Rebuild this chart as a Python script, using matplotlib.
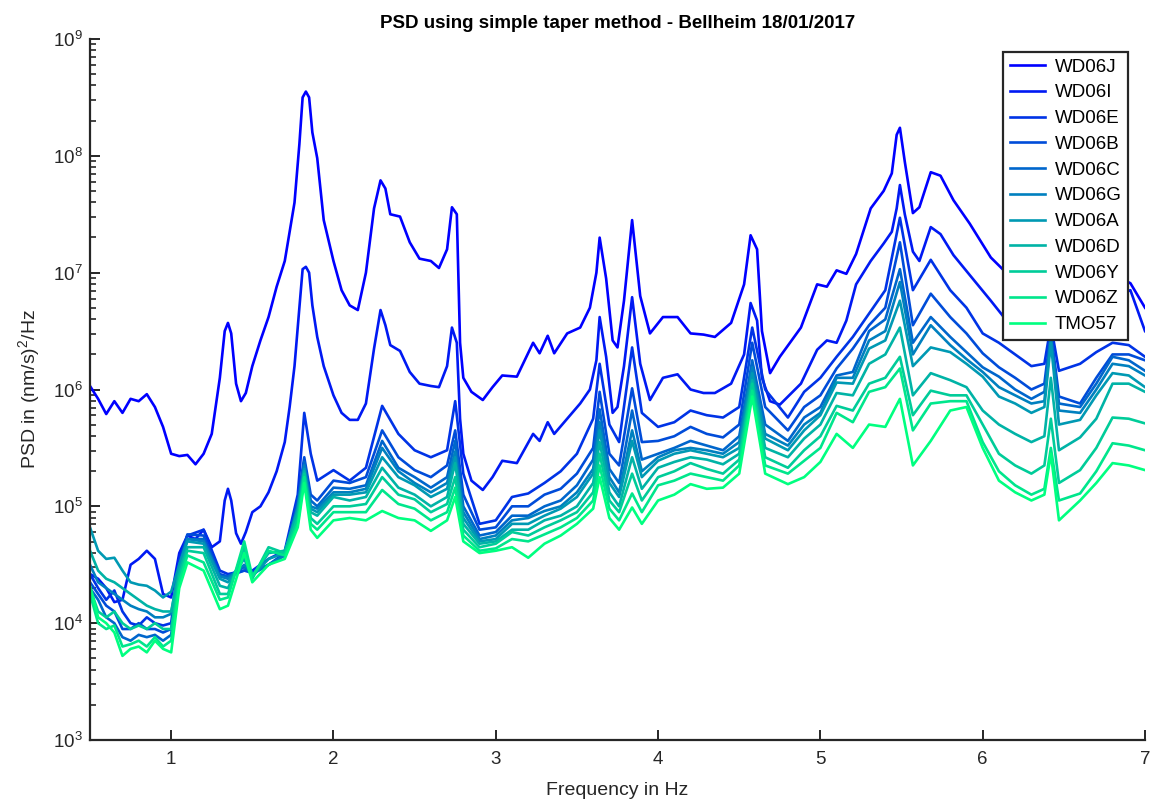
import numpy as np
import matplotlib
matplotlib.use("Agg")
import matplotlib.pyplot as plt
from matplotlib.ticker import LogLocator, FuncFormatter, NullFormatter, FixedLocator

plt.rcParams['font.family'] = ['Liberation Sans', 'DejaVu Sans']
plt.rcParams['mathtext.fontset'] = 'custom'
plt.rcParams['mathtext.rm'] = 'Liberation Sans'
plt.rcParams['mathtext.it'] = 'Liberation Sans:italic'
plt.rcParams['mathtext.bf'] = 'Liberation Sans:bold'
plt.rcParams['mathtext.default'] = 'rm'

# ---------------- data (log10 of PSD) ----------------
station_names = ["WD06J", "WD06I", "WD06E", "WD06B", "WD06C", "WD06G",
                 "WD06A", "WD06D", "WD06Y", "WD06Z", "TMO57"]

freq_top = [0.5, 0.55, 0.6, 0.65, 0.7, 0.75, 0.8, 0.85, 0.9, 0.95,
            1.0, 1.05, 1.1, 1.15, 1.2, 1.25, 1.3, 1.33, 1.35, 1.37,
            1.4, 1.43, 1.46, 1.5, 1.55, 1.6, 1.65, 1.7, 1.73, 1.76,
            1.79, 1.81, 1.83, 1.85, 1.87, 1.9, 1.94, 2.0, 2.05, 2.1,
            2.15, 2.2, 2.25, 2.29, 2.32, 2.35, 2.41, 2.47, 2.53, 2.6,
            2.65, 2.7, 2.73, 2.76, 2.78, 2.8, 2.85, 2.92, 2.98, 3.04,
            3.13, 3.23, 3.27, 3.32, 3.36, 3.44, 3.52, 3.58, 3.62, 3.64,
            3.68, 3.72, 3.75, 3.79, 3.84, 3.89, 3.95, 4.03, 4.12, 4.2,
            4.28, 4.35, 4.45, 4.53, 4.57, 4.61, 4.64, 4.69, 4.75, 4.88,
            4.98, 5.04, 5.1, 5.16, 5.22, 5.31, 5.39, 5.44, 5.47, 5.49,
            5.52, 5.57, 5.61, 5.68, 5.74, 5.82, 5.92, 6.05, 6.13, 6.25,
            6.4, 6.55, 6.7, 6.85, 6.91, 7.0]

wd06j_log = [6.03, 5.92, 5.79, 5.90, 5.80, 5.92, 5.90, 5.96, 5.85, 5.68,
             5.45, 5.43, 5.44, 5.36, 5.45, 5.62, 6.10, 6.50, 6.57, 6.48,
             6.05, 5.90, 5.97, 6.20, 6.42, 6.62, 6.88, 7.10, 7.35, 7.60,
             8.10, 8.50, 8.55, 8.50, 8.20, 7.98, 7.45, 7.10, 6.85, 6.72,
             6.68, 7.00, 7.55, 7.79, 7.72, 7.50, 7.48, 7.26, 7.12, 7.10,
             7.04, 7.20, 7.56, 7.50, 6.40, 6.10, 5.98, 5.91, 6.02, 6.12,
             6.11, 6.40, 6.31, 6.46, 6.31, 6.48, 6.53, 6.70, 7.00, 7.30,
             6.95, 6.42, 6.36, 6.76, 7.45, 6.80, 6.48, 6.62, 6.62, 6.48,
             6.47, 6.45, 6.57, 6.90, 7.32, 7.20, 6.50, 6.14, 6.28, 6.53,
             6.90, 6.88, 7.02, 6.99, 7.16, 7.55, 7.70, 7.85, 8.18, 8.24,
             7.95, 7.51, 7.56, 7.86, 7.83, 7.62, 7.42, 7.13, 7.02, 6.98,
             6.90, 6.85, 6.88, 6.95, 6.91, 6.70]

wd06i_log = [4.42, 4.38, 4.30, 4.18, 4.20, 4.50, 4.55, 4.62, 4.55, 4.25,
             4.22, 4.60, 4.75, 4.72, 4.80, 4.65, 4.70, 5.05, 5.15, 5.05,
             4.77, 4.68, 4.78, 4.95, 5.00, 5.12, 5.30, 5.55, 5.85, 6.20,
             6.70, 7.03, 7.05, 7.00, 6.72, 6.45, 6.20, 5.95, 5.80, 5.74,
             5.74, 5.88, 6.35, 6.68, 6.55, 6.38, 6.33, 6.15, 6.05, 6.03,
             6.02, 6.20, 6.53, 6.40, 5.75, 5.45, 5.22, 5.14, 5.25, 5.39,
             5.37, 5.62, 5.56, 5.72, 5.62, 5.75, 5.88, 6.00, 6.25, 6.62,
             6.28, 5.80, 5.85, 6.20, 6.79, 6.22, 5.91, 6.10, 6.13, 6.00,
             5.97, 5.97, 6.05, 6.30, 6.74, 6.59, 6.10, 5.90, 5.87, 6.05,
             6.34, 6.42, 6.40, 6.59, 6.90, 7.10, 7.25, 7.35, 7.55, 7.75,
             7.50, 7.18, 7.10, 7.39, 7.33, 7.15, 6.98, 6.76, 6.62, 6.55,
             6.60, 6.50, 6.65, 6.82, 6.85, 6.50]

freq_low = [0.5, 0.55, 0.6, 0.65, 0.7, 0.75, 0.8, 0.85, 0.9, 0.95, 1.0, 1.05, 1.1,
            1.2, 1.3, 1.35, 1.45, 1.5, 1.6, 1.7, 1.78, 1.82, 1.86, 1.9,
            2.0, 2.1, 2.2, 2.3, 2.4, 2.5, 2.6, 2.7, 2.75, 2.8, 2.9,
            3.0, 3.1, 3.2, 3.3, 3.4, 3.5, 3.6, 3.64, 3.7, 3.76, 3.84, 3.9,
            4.0, 4.1, 4.2, 4.3, 4.4, 4.5, 4.58, 4.66, 4.8, 4.9,
            5.0, 5.1, 5.2, 5.3, 5.4, 5.49, 5.57, 5.68, 5.8, 5.9,
            6.0, 6.1, 6.2, 6.3, 6.38, 6.42, 6.47, 6.6, 6.7, 6.8, 6.9, 7.0]

wd06e_log = [4.42, 4.30, 4.20, 4.28, 4.10, 4.00, 3.98, 4.05, 4.00, 3.98, 4.00, 4.55, 4.75,
             4.80, 4.45, 4.42, 4.45, 4.45, 4.55, 4.62, 5.10, 5.80, 5.45, 5.22,
             5.31, 5.22, 5.33, 5.86, 5.62, 5.48, 5.42, 5.48, 5.90, 5.28, 4.85,
             4.88, 5.08, 5.11, 5.20, 5.30, 5.45, 5.75, 6.22, 5.70, 5.55, 6.36, 5.80,
             5.68, 5.72, 5.82, 5.78, 5.76, 5.85, 6.53, 6.00, 5.76, 5.98,
             6.10, 6.28, 6.45, 6.65, 6.85, 7.47, 6.85, 7.11, 6.85, 6.70,
             6.48, 6.40, 6.30, 6.20, 6.22, 6.55, 6.16, 6.22, 6.32, 6.40, 6.38, 6.28]

wd06b_log = [4.35, 4.25, 4.15, 4.10, 3.95, 3.95, 4.00, 3.95, 3.95, 3.92, 3.95, 4.50, 4.76,
             4.75, 4.42, 4.40, 4.45, 4.43, 4.50, 4.60, 5.05, 5.42, 5.10, 5.05,
             5.22, 5.20, 5.25, 5.65, 5.42, 5.31, 5.25, 5.35, 5.65, 5.10, 4.80,
             4.82, 5.00, 5.00, 5.10, 5.15, 5.28, 5.50, 5.98, 5.45, 5.35, 6.01, 5.55,
             5.56, 5.60, 5.68, 5.62, 5.59, 5.70, 6.40, 5.85, 5.65, 5.85,
             5.95, 6.18, 6.35, 6.55, 6.70, 7.26, 6.55, 6.82, 6.62, 6.48,
             6.31, 6.19, 6.10, 6.00, 6.05, 6.50, 5.94, 5.88, 6.10, 6.30, 6.30, 6.25]

wd06c_log = [4.30, 4.20, 4.05, 4.00, 3.88, 3.85, 3.90, 3.88, 3.90, 3.85, 3.90, 4.45, 4.72,
             4.72, 4.40, 4.40, 4.48, 4.42, 4.50, 4.58, 5.00, 5.38, 5.05, 5.00,
             5.16, 5.15, 5.18, 5.56, 5.33, 5.25, 5.16, 5.25, 5.56, 5.00, 4.75,
             4.78, 4.92, 4.92, 5.00, 5.05, 5.18, 5.40, 5.83, 5.32, 5.20, 5.82, 5.40,
             5.45, 5.50, 5.56, 5.52, 5.48, 5.60, 6.25, 5.70, 5.56, 5.76,
             5.85, 6.12, 6.15, 6.50, 6.60, 7.03, 6.40, 6.62, 6.45, 6.32,
             6.19, 6.11, 6.00, 5.92, 5.98, 6.45, 5.88, 5.85, 6.05, 6.28, 6.25, 6.16]

wd06g_log = [4.50, 4.35, 4.30, 4.25, 4.20, 4.15, 4.12, 4.10, 4.05, 4.05, 4.08, 4.50, 4.72,
             4.70, 4.40, 4.38, 4.50, 4.42, 4.50, 4.58, 5.00, 5.35, 5.00, 4.98,
             5.12, 5.12, 5.15, 5.50, 5.30, 5.20, 5.12, 5.20, 5.47, 4.95, 4.72,
             4.75, 4.88, 4.90, 4.96, 5.00, 5.12, 5.32, 5.72, 5.25, 5.12, 5.65, 5.30,
             5.42, 5.48, 5.50, 5.48, 5.45, 5.55, 6.19, 5.62, 5.52, 5.70,
             5.80, 6.10, 6.10, 6.42, 6.50, 6.92, 6.30, 6.55, 6.38, 6.26,
             6.15, 6.02, 5.95, 5.88, 5.90, 6.45, 5.82, 5.80, 6.00, 6.22, 6.20, 6.12]

wd06a_log = [4.82, 4.62, 4.55, 4.56, 4.45, 4.35, 4.33, 4.32, 4.28, 4.22, 4.27, 4.50, 4.70,
             4.68, 4.38, 4.35, 4.55, 4.40, 4.55, 4.60, 4.98, 5.32, 4.98, 4.95,
             5.10, 5.10, 5.12, 5.42, 5.25, 5.18, 5.08, 5.15, 5.42, 4.90, 4.70,
             4.72, 4.85, 4.85, 4.92, 4.98, 5.08, 5.28, 5.65, 5.20, 5.08, 5.56, 5.25,
             5.39, 5.45, 5.48, 5.45, 5.42, 5.50, 6.14, 5.58, 5.48, 5.65,
             5.78, 6.06, 6.05, 6.35, 6.42, 6.76, 6.20, 6.36, 6.32, 6.22,
             6.11, 5.94, 5.88, 5.80, 5.85, 6.40, 5.70, 5.74, 5.95, 6.14, 6.12, 6.02]

wd06d_log = [4.62, 4.45, 4.38, 4.35, 4.30, 4.25, 4.20, 4.15, 4.12, 4.10, 4.10, 4.45, 4.65,
             4.65, 4.32, 4.30, 4.60, 4.40, 4.60, 4.62, 4.95, 5.30, 4.95, 4.92,
             5.08, 5.05, 5.08, 5.33, 5.16, 5.10, 5.00, 5.08, 5.37, 4.85, 4.68,
             4.70, 4.80, 4.80, 4.88, 4.92, 5.00, 5.20, 5.55, 5.12, 5.00, 5.42, 5.15,
             5.33, 5.38, 5.42, 5.40, 5.36, 5.45, 6.08, 5.50, 5.42, 5.58,
             5.70, 5.97, 5.95, 6.22, 6.30, 6.53, 5.95, 6.14, 6.08, 6.02,
             5.82, 5.70, 5.62, 5.55, 5.60, 6.10, 5.48, 5.59, 5.75, 6.05, 6.05, 5.98]

wd06y_log = [4.30, 4.10, 4.05, 4.10, 4.00, 3.95, 3.98, 3.95, 4.00, 3.95, 3.95, 4.40, 4.62,
             4.60, 4.25, 4.25, 4.65, 4.38, 4.65, 4.60, 4.90, 5.28, 4.90, 4.85,
             5.00, 5.00, 5.02, 5.25, 5.10, 5.06, 4.95, 5.02, 5.25, 4.80, 4.65,
             4.68, 4.78, 4.75, 4.82, 4.88, 4.95, 5.12, 5.45, 5.05, 4.95, 5.28, 5.05,
             5.25, 5.30, 5.37, 5.32, 5.28, 5.40, 6.05, 5.42, 5.33, 5.48,
             5.60, 5.86, 5.82, 6.05, 6.10, 6.28, 5.78, 5.99, 5.95, 5.95,
             5.70, 5.45, 5.35, 5.28, 5.35, 5.75, 5.20, 5.31, 5.50, 5.76, 5.75, 5.71]

wd06z_log = [4.25, 4.00, 3.95, 3.98, 3.80, 3.82, 3.85, 3.80, 3.88, 3.80, 3.85, 4.35, 4.58,
             4.52, 4.20, 4.22, 4.70, 4.40, 4.62, 4.58, 4.85, 5.25, 4.85, 4.80,
             4.95, 4.95, 4.95, 5.14, 5.02, 4.98, 4.88, 4.95, 5.16, 4.75, 4.62,
             4.64, 4.72, 4.70, 4.76, 4.82, 4.90, 5.05, 5.35, 4.98, 4.88, 5.11, 4.95,
             5.18, 5.22, 5.28, 5.25, 5.22, 5.35, 5.99, 5.35, 5.28, 5.39,
             5.50, 5.80, 5.72, 5.98, 6.02, 6.18, 5.65, 5.88, 5.90, 5.90,
             5.55, 5.30, 5.18, 5.10, 5.15, 5.50, 5.05, 5.11, 5.30, 5.54, 5.52, 5.48]

tmo57_log = [4.32, 4.05, 4.00, 3.92, 3.72, 3.78, 3.80, 3.75, 3.85, 3.78, 3.75, 4.30, 4.52,
             4.45, 4.12, 4.15, 4.60, 4.35, 4.50, 4.55, 4.82, 5.20, 4.80, 4.73,
             4.88, 4.90, 4.88, 4.96, 4.90, 4.88, 4.79, 4.88, 5.08, 4.70, 4.60,
             4.62, 4.65, 4.56, 4.68, 4.75, 4.85, 4.98, 5.25, 4.90, 4.80, 4.99, 4.85,
             5.05, 5.10, 5.19, 5.15, 5.16, 5.28, 5.94, 5.28, 5.19, 5.25,
             5.38, 5.62, 5.50, 5.70, 5.68, 5.92, 5.35, 5.56, 5.82, 5.85,
             5.50, 5.22, 5.12, 5.05, 5.10, 5.45, 4.88, 5.05, 5.20, 5.37, 5.35, 5.31]

ytick_values = [1e3, 1e4, 1e5, 1e6, 1e7, 1e8, 1e9]
xtick_values = [1, 2, 3, 4, 5, 6, 7]

series = [(freq_top, wd06j_log), (freq_top, wd06i_log),
          (freq_low, wd06e_log), (freq_low, wd06b_log), (freq_low, wd06c_log),
          (freq_low, wd06g_log), (freq_low, wd06a_log), (freq_low, wd06d_log),
          (freq_low, wd06y_log), (freq_low, wd06z_log), (freq_low, tmo57_log)]

# ---------------- figure ----------------
fig = plt.figure(figsize=(11.56, 8.0), dpi=100)
ax = fig.add_axes([90 / 1156, 60 / 800, 1055 / 1156, 701 / 800])

colors = plt.cm.winter(np.linspace(0, 1, len(station_names)))
for (fx, lg), name, c in zip(series, station_names, colors):
    ax.plot(fx, 10 ** np.asarray(lg), color=c, lw=1.9, label=name,
            solid_joinstyle='round')

ax.set_yscale('log')
ax.set_xlim(0.5, 7)
ax.set_ylim(1e3, 1e9)

dark = (0.15, 0.15, 0.15)
for s in ['top', 'right']:
    ax.spines[s].set_visible(False)
for s in ['left', 'bottom']:
    ax.spines[s].set_color(dark)
    ax.spines[s].set_linewidth(1.6)

ax.xaxis.set_major_locator(FixedLocator(xtick_values))
ax.yaxis.set_major_locator(FixedLocator(ytick_values))
ax.yaxis.set_minor_locator(LogLocator(base=10, subs=np.arange(2, 10), numticks=20))
ax.yaxis.set_minor_formatter(NullFormatter())
ax.yaxis.set_major_formatter(FuncFormatter(lambda v, p: r'$10^{%d}$' % int(round(np.log10(v)))))
ax.tick_params(axis='both', which='major', direction='in', length=7, width=1.4,
               colors=dark, labelsize=13.5, labelcolor=dark)
ax.tick_params(axis='y', which='minor', direction='in', length=4, width=1.2, colors=dark)
ax.tick_params(axis='x', which='major', pad=8)
ax.tick_params(axis='y', which='major', pad=5)

ax.set_title('PSD using simple taper method - Bellheim 18/01/2017',
             fontsize=13.5, fontweight='bold', pad=8)
ax.set_xlabel('Frequency in Hz', fontsize=14, color=dark, labelpad=10)
ax.set_ylabel(r'PSD in (nm/s)$^2$/Hz', fontsize=14, color=dark, labelpad=8)

leg = ax.legend(loc='upper right', bbox_to_anchor=((1128 - 90) / 1055, (740 - 52) / 701),
                borderaxespad=0, fontsize=13.5, handlelength=1.9, handletextpad=0.5,
                labelspacing=0.46, borderpad=0.35, fancybox=False, framealpha=1,
                edgecolor=dark)
leg.get_frame().set_linewidth(1.6)
leg.set_zorder(10)

fig.savefig('out.png', dpi=100)
